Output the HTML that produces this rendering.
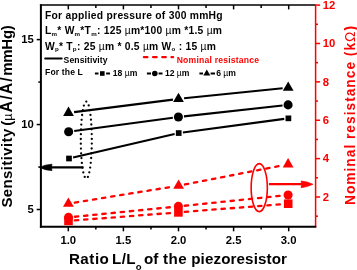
<!DOCTYPE html>
<html><head><meta charset="utf-8">
<style>
html,body{margin:0;padding:0;background:#fff;overflow:hidden;}
svg{display:block;will-change:transform;}
text{font-family:"Liberation Sans",sans-serif;font-weight:bold;}
</style></head>
<body>
<svg width="357" height="270" viewBox="0 0 357 270">
<line x1="68.30" y1="226.70" x2="68.30" y2="231.30" stroke="#000" stroke-width="1.5"/>
<line x1="68.30" y1="5.10" x2="68.30" y2="9.40" stroke="#000" stroke-width="1.5"/>
<line x1="123.40" y1="226.70" x2="123.40" y2="231.30" stroke="#000" stroke-width="1.5"/>
<line x1="123.40" y1="5.10" x2="123.40" y2="9.40" stroke="#000" stroke-width="1.5"/>
<line x1="178.50" y1="226.70" x2="178.50" y2="231.30" stroke="#000" stroke-width="1.5"/>
<line x1="178.50" y1="5.10" x2="178.50" y2="9.40" stroke="#000" stroke-width="1.5"/>
<line x1="233.60" y1="226.70" x2="233.60" y2="231.30" stroke="#000" stroke-width="1.5"/>
<line x1="233.60" y1="5.10" x2="233.60" y2="9.40" stroke="#000" stroke-width="1.5"/>
<line x1="288.70" y1="226.70" x2="288.70" y2="231.30" stroke="#000" stroke-width="1.5"/>
<line x1="288.70" y1="5.10" x2="288.70" y2="9.40" stroke="#000" stroke-width="1.5"/>
<line x1="95.85" y1="226.70" x2="95.85" y2="229.50" stroke="#000" stroke-width="1.5"/>
<line x1="95.85" y1="5.10" x2="95.85" y2="8.10" stroke="#000" stroke-width="1.5"/>
<line x1="150.95" y1="226.70" x2="150.95" y2="229.50" stroke="#000" stroke-width="1.5"/>
<line x1="150.95" y1="5.10" x2="150.95" y2="8.10" stroke="#000" stroke-width="1.5"/>
<line x1="206.05" y1="226.70" x2="206.05" y2="229.50" stroke="#000" stroke-width="1.5"/>
<line x1="206.05" y1="5.10" x2="206.05" y2="8.10" stroke="#000" stroke-width="1.5"/>
<line x1="261.15" y1="226.70" x2="261.15" y2="229.50" stroke="#000" stroke-width="1.5"/>
<line x1="261.15" y1="5.10" x2="261.15" y2="8.10" stroke="#000" stroke-width="1.5"/>
<line x1="36.70" y1="209.50" x2="40.90" y2="209.50" stroke="#000" stroke-width="1.5"/>
<line x1="36.70" y1="124.55" x2="40.90" y2="124.55" stroke="#000" stroke-width="1.5"/>
<line x1="36.70" y1="39.60" x2="40.90" y2="39.60" stroke="#000" stroke-width="1.5"/>
<line x1="38.30" y1="167.02" x2="40.90" y2="167.02" stroke="#000" stroke-width="1.5"/>
<line x1="38.30" y1="82.07" x2="40.90" y2="82.07" stroke="#000" stroke-width="1.5"/>
<line x1="315.60" y1="197.00" x2="320.10" y2="197.00" stroke="#ff0000" stroke-width="1.5"/>
<line x1="315.60" y1="158.62" x2="320.10" y2="158.62" stroke="#ff0000" stroke-width="1.5"/>
<line x1="315.60" y1="120.24" x2="320.10" y2="120.24" stroke="#ff0000" stroke-width="1.5"/>
<line x1="315.60" y1="81.86" x2="320.10" y2="81.86" stroke="#ff0000" stroke-width="1.5"/>
<line x1="315.60" y1="43.48" x2="320.10" y2="43.48" stroke="#ff0000" stroke-width="1.5"/>
<line x1="315.60" y1="5.10" x2="320.10" y2="5.10" stroke="#ff0000" stroke-width="1.5"/>
<line x1="315.60" y1="216.19" x2="318.00" y2="216.19" stroke="#ff0000" stroke-width="1.5"/>
<line x1="315.60" y1="177.81" x2="318.00" y2="177.81" stroke="#ff0000" stroke-width="1.5"/>
<line x1="315.60" y1="139.43" x2="318.00" y2="139.43" stroke="#ff0000" stroke-width="1.5"/>
<line x1="315.60" y1="101.05" x2="318.00" y2="101.05" stroke="#ff0000" stroke-width="1.5"/>
<line x1="315.60" y1="62.67" x2="318.00" y2="62.67" stroke="#ff0000" stroke-width="1.5"/>
<line x1="315.60" y1="24.29" x2="318.00" y2="24.29" stroke="#ff0000" stroke-width="1.5"/>
<line x1="39.90" y1="5.10" x2="315.60" y2="5.10" stroke="#000" stroke-width="1.5"/>
<line x1="40.90" y1="4.40" x2="40.90" y2="227.70" stroke="#000" stroke-width="2"/>
<line x1="315.60" y1="4.40" x2="315.60" y2="227.20" stroke="#ff0000" stroke-width="1.5"/>
<line x1="39.90" y1="226.70" x2="316.30" y2="226.70" stroke="#000" stroke-width="2"/>
<text x="68.30" y="243.5" font-size="11.3" text-anchor="middle">1.0</text>
<text x="123.40" y="243.5" font-size="11.3" text-anchor="middle">1.5</text>
<text x="178.50" y="243.5" font-size="11.3" text-anchor="middle">2.0</text>
<text x="233.60" y="243.5" font-size="11.3" text-anchor="middle">2.5</text>
<text x="288.70" y="243.5" font-size="11.3" text-anchor="middle">3.0</text>
<text x="33.9" y="212.70" font-size="11.3" text-anchor="end">5</text>
<text x="33.9" y="127.75" font-size="11.3" text-anchor="end">10</text>
<text x="33.9" y="42.80" font-size="11.3" text-anchor="end">15</text>
<text x="322.8" y="200.70" font-size="11.3" fill="#ff0000">2</text>
<text x="322.8" y="162.32" font-size="11.3" fill="#ff0000">4</text>
<text x="322.8" y="123.94" font-size="11.3" fill="#ff0000">6</text>
<text x="322.8" y="85.56" font-size="11.3" fill="#ff0000">8</text>
<text x="322.8" y="47.18" font-size="11.3" fill="#ff0000">10</text>
<text x="322.8" y="8.80" font-size="11.3" fill="#ff0000">12</text>
<text x="68.9" y="263.9" font-size="15.2" textLength="40.0" lengthAdjust="spacing">Ratio</text>
<text x="112.0" y="263.9" font-size="15.2" textLength="23.6" lengthAdjust="spacing">L/L</text>
<text x="135.8" y="270.0" font-size="9.5">o</text>
<text x="143.9" y="263.9" font-size="15.2">of</text>
<text x="163.0" y="263.9" font-size="15.2" textLength="23.8" lengthAdjust="spacing">the</text>
<text x="191.2" y="263.9" font-size="15.2" textLength="95.8" lengthAdjust="spacing">piezoresistor</text>
<text transform="translate(12.0,207.6) rotate(-90)" font-size="15" textLength="78.9" lengthAdjust="spacing">Sensitivity</text>
<text transform="translate(12.0,125.8) rotate(-90)" font-size="15">(<tspan font-weight="normal" font-size="12.5">µ</tspan></text>
<text transform="translate(12.3,112.4) rotate(-90)" font-size="15.8" textLength="35.0" lengthAdjust="spacing">A/A/</text>
<text transform="translate(12.0,75.8) rotate(-90)" font-size="15" textLength="50.6" lengthAdjust="spacing">mmHg)</text>
<text transform="translate(354.5,205.0) rotate(-90)" font-size="13.8" fill="#ff0000" textLength="179" lengthAdjust="spacing">Nominal resistance (k<tspan font-weight="normal">Ω</tspan>)</text>
<text x="45" y="18.8" font-size="10.3" textLength="177.6" lengthAdjust="spacing">For applied pressure of 300 mmHg</text>
<text x="45" y="34.3" font-size="10.3" textLength="177.0" lengthAdjust="spacing">L<tspan font-size="6.2" dy="1.6">m</tspan><tspan dy="-1.6">* W</tspan><tspan font-size="6.2" dy="1.6">m</tspan><tspan dy="-1.6">*T</tspan><tspan font-size="6.2" dy="1.6">m</tspan><tspan dy="-1.6">: 125 </tspan><tspan font-weight="normal">µ</tspan>m*100 <tspan font-weight="normal">µ</tspan>m *1.5 <tspan font-weight="normal">µ</tspan>m</text>
<text x="45" y="49.7" font-size="10.3" textLength="170.8" lengthAdjust="spacing">W<tspan font-size="6.2" dy="1.6">p</tspan><tspan dy="-1.6">* T</tspan><tspan font-size="6.2" dy="1.6">p</tspan><tspan dy="-1.6">: 25 </tspan><tspan font-weight="normal">µ</tspan>m * 0.5 <tspan font-weight="normal">µ</tspan>m W<tspan font-size="6.2" dy="1.6">o</tspan><tspan dy="-1.6"> : 15 </tspan><tspan font-weight="normal">µ</tspan>m</text>
<line x1="45.2" y1="58.4" x2="61.7" y2="58.4" stroke="#000" stroke-width="2" stroke-linecap="round"/>
<text x="63.6" y="62.9" font-size="8.6" textLength="44" lengthAdjust="spacing">Sensitivity</text>
<line x1="143.95" y1="57.1" x2="173.05" y2="57.1" stroke="#ff0000" stroke-width="2.4" stroke-dasharray="3.4 5.8" stroke-linecap="round"/>
<text x="176.7" y="62.9" font-size="8.6" fill="#ff0000" textLength="82.3" lengthAdjust="spacing">Nominal resistance</text>
<text x="45" y="75.3" font-size="8.6" textLength="37.8" lengthAdjust="spacing">For the L</text>
<line x1="94.9" y1="73.5" x2="98.5" y2="73.5" stroke="#000" stroke-width="2"/><line x1="106.1" y1="73.5" x2="110.0" y2="73.5" stroke="#000" stroke-width="2"/><rect x="100.00" y="71.20" width="4.6" height="4.6" fill="#000"/>
<text x="112.8" y="75.5" font-size="8.6">18 <tspan font-weight="normal">µ</tspan>m</text>
<line x1="146.9" y1="73.5" x2="151.0" y2="73.5" stroke="#000" stroke-width="2"/><line x1="158.60000000000002" y1="73.5" x2="162.5" y2="73.5" stroke="#000" stroke-width="2"/><circle cx="154.80" cy="73.50" r="2.8" fill="#000"/>
<text x="164.9" y="75.5" font-size="8.6">12 <tspan font-weight="normal">µ</tspan>m</text>
<line x1="199.4" y1="73.5" x2="203.0" y2="73.5" stroke="#000" stroke-width="2"/><line x1="210.60000000000002" y1="73.5" x2="215.0" y2="73.5" stroke="#000" stroke-width="2"/><polygon points="203.30,75.50 210.30,75.50 206.80,69.50" fill="#000"/>
<text x="216.2" y="75.5" font-size="8.6">6 <tspan font-weight="normal">µ</tspan>m</text>
<line x1="74.06" y1="112.10" x2="172.94" y2="99.60" stroke="#000" stroke-width="2.1"/><line x1="184.07" y1="98.33" x2="282.63" y2="88.17" stroke="#000" stroke-width="2.1"/>
<line x1="74.20" y1="130.95" x2="172.85" y2="117.70" stroke="#000" stroke-width="2.1"/><line x1="183.97" y1="116.34" x2="282.53" y2="105.51" stroke="#000" stroke-width="2.1"/>
<line x1="73.09" y1="157.55" x2="174.61" y2="134.00" stroke="#000" stroke-width="2.1"/><line x1="182.86" y1="132.49" x2="284.24" y2="118.91" stroke="#000" stroke-width="2.1"/>
<line x1="74.72" y1="202.57" x2="172.28" y2="186.73" stroke="#ff0000" stroke-width="2.3" stroke-dasharray="3.4 5.8" stroke-linecap="round"/><line x1="184.88" y1="184.47" x2="281.82" y2="165.53" stroke="#ff0000" stroke-width="2.3" stroke-dasharray="3.4 5.8" stroke-linecap="round"/>
<line x1="74.87" y1="216.76" x2="172.03" y2="207.04" stroke="#ff0000" stroke-width="2.3" stroke-dasharray="3.4 5.8" stroke-linecap="round"/><line x1="184.77" y1="205.74" x2="281.73" y2="195.66" stroke="#ff0000" stroke-width="2.3" stroke-dasharray="3.4 5.8" stroke-linecap="round"/>
<line x1="74.88" y1="220.41" x2="172.02" y2="212.89" stroke="#ff0000" stroke-width="2.3" stroke-dasharray="3.4 5.8" stroke-linecap="round"/><line x1="184.78" y1="211.89" x2="281.82" y2="204.21" stroke="#ff0000" stroke-width="2.3" stroke-dasharray="3.4 5.8" stroke-linecap="round"/>
<polygon points="63.10,115.90 73.90,115.90 68.50,106.60" fill="#000"/>
<polygon points="173.10,102.00 183.90,102.00 178.50,92.70" fill="#000"/>
<polygon points="282.80,90.70 293.60,90.70 288.20,81.40" fill="#000"/>
<circle cx="68.65" cy="131.70" r="4.55" fill="#000"/>
<circle cx="178.40" cy="116.95" r="4.55" fill="#000"/>
<circle cx="288.10" cy="104.90" r="4.55" fill="#000"/>
<rect x="66.15" y="155.65" width="5.7" height="5.7" fill="#000"/>
<rect x="175.85" y="130.20" width="5.7" height="5.7" fill="#000"/>
<rect x="285.55" y="115.50" width="5.7" height="5.7" fill="#000"/>
<polygon points="63.00,206.70 73.80,206.70 68.40,197.40" fill="#ff0000"/>
<polygon points="173.20,188.80 184.00,188.80 178.60,179.50" fill="#ff0000"/>
<polygon points="282.70,167.40 293.50,167.40 288.10,158.10" fill="#ff0000"/>
<circle cx="68.50" cy="217.40" r="4.55" fill="#ff0000"/>
<circle cx="178.40" cy="206.40" r="4.55" fill="#ff0000"/>
<circle cx="288.10" cy="195.00" r="4.55" fill="#ff0000"/>
<rect x="64.20" y="216.60" width="8.6" height="8.6" fill="#ff0000"/>
<rect x="174.10" y="208.10" width="8.6" height="8.6" fill="#ff0000"/>
<rect x="283.90" y="199.40" width="8.6" height="8.6" fill="#ff0000"/>
<g fill="#000"><circle cx="86.30" cy="101.60" r="1.15"/><circle cx="88.70" cy="105.47" r="1.15"/><circle cx="89.75" cy="110.13" r="1.15"/><circle cx="90.46" cy="114.91" r="1.15"/><circle cx="90.96" cy="119.68" r="1.15"/><circle cx="91.33" cy="124.48" r="1.15"/><circle cx="91.58" cy="129.24" r="1.15"/><circle cx="91.73" cy="134.08" r="1.15"/><circle cx="91.80" cy="138.89" r="1.15"/><circle cx="91.78" cy="143.60" r="1.15"/><circle cx="91.67" cy="148.50" r="1.15"/><circle cx="91.47" cy="153.26" r="1.15"/><circle cx="91.17" cy="158.01" r="1.15"/><circle cx="90.74" cy="162.83" r="1.15"/><circle cx="90.15" cy="167.58" r="1.15"/><circle cx="89.31" cy="172.34" r="1.15"/><circle cx="87.90" cy="176.93" r="1.15"/><circle cx="84.72" cy="176.97" r="1.15"/><circle cx="83.31" cy="172.41" r="1.15"/><circle cx="82.46" cy="167.66" r="1.15"/><circle cx="81.87" cy="162.92" r="1.15"/><circle cx="81.44" cy="158.12" r="1.15"/><circle cx="81.14" cy="153.37" r="1.15"/><circle cx="80.94" cy="148.62" r="1.15"/><circle cx="80.82" cy="143.72" r="1.15"/><circle cx="80.80" cy="139.01" r="1.15"/><circle cx="80.87" cy="134.20" r="1.15"/><circle cx="81.02" cy="129.36" r="1.15"/><circle cx="81.27" cy="124.59" r="1.15"/><circle cx="81.63" cy="119.78" r="1.15"/><circle cx="82.13" cy="115.00" r="1.15"/><circle cx="82.83" cy="110.21" r="1.15"/><circle cx="83.88" cy="105.53" r="1.15"/></g>
<line x1="50" y1="167.4" x2="83.4" y2="167.4" stroke="#000" stroke-width="2.3"/>
<path d="M39.4,167.4 Q45,164.6 52.0,164.2 L51.3,167.4 L52.0,170.6 Q45,170.2 39.4,167.4 Z" fill="#000" stroke="#000" stroke-width="0.7" stroke-linejoin="round"/>
<ellipse cx="259.25" cy="187.65" rx="8.1" ry="24.0" fill="none" stroke="#ff0000" stroke-width="1.6"/>
<line x1="268.9" y1="184.2" x2="303" y2="184.2" stroke="#ff0000" stroke-width="2.3"/>
<path d="M312.9,184.3 Q307,181.6 301.2,181.0 L301.5,184.3 L301.2,187.7 Q307,187.0 312.9,184.3 Z" fill="#ff0000" stroke="#ff0000" stroke-width="0.8" stroke-linejoin="round"/>
</svg>
</body></html>
